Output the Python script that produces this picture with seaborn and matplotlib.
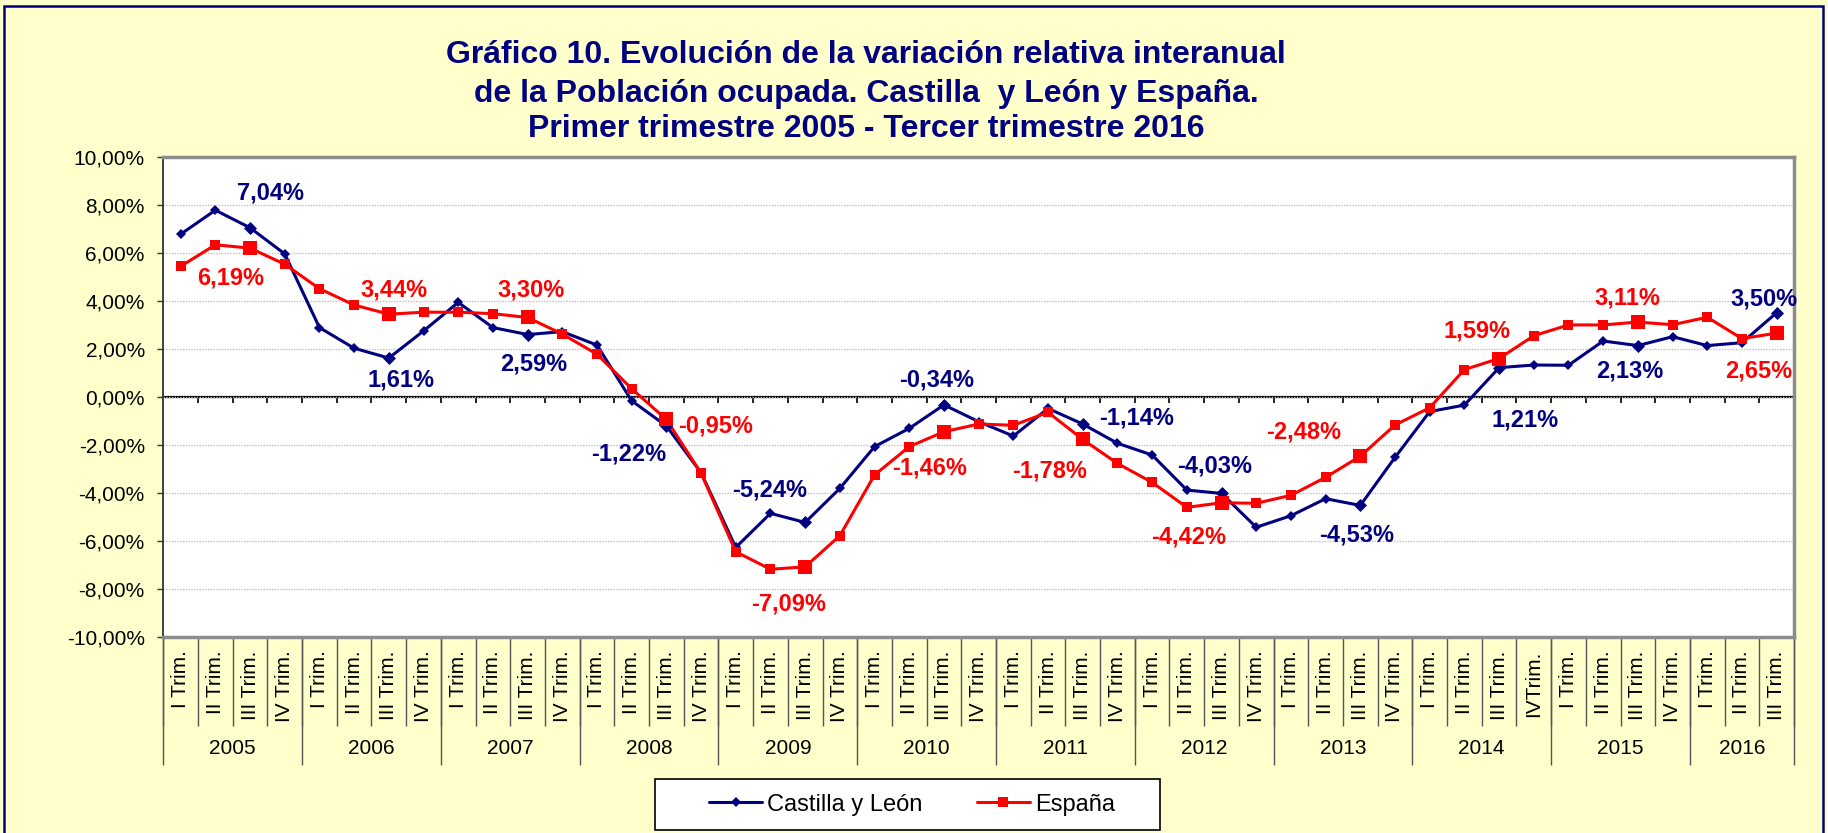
import numpy as np
import pandas as pd
import matplotlib
matplotlib.use('Agg')
import matplotlib.pyplot as plt
import seaborn as sns
from matplotlib.patches import Rectangle
from matplotlib.ticker import FuncFormatter

# ── Data ───────────────────────────────────────────────────────────────────
years = ['2005', '2006', '2007', '2008', '2009', '2010',
         '2011', '2012', '2013', '2014', '2015', '2016']

quarter_labels = (
    ['I Trim.', 'II Trim.', 'III Trim.', 'IV Trim.'] * 9
    + ['I Trim.', 'II Trim.', 'III Trim.', 'IVTrim.']
    + ['I Trim.', 'II Trim.', 'III Trim.', 'IV Trim.']
    + ['I Trim.', 'II Trim.', 'III Trim.']
)

# variación interanual (%) 2005 T1 ... 2016 T3
castilla_leon = [6.77, 7.77, 7.04, 5.95, 2.88, 2.02, 1.61, 2.74,
                 3.93, 2.88, 2.59, 2.71, 2.15, -0.17, -1.22, -3.17,
                 -6.28, -4.86, -5.24, -3.82, -2.08, -1.32, -0.34, -1.04,
                 -1.64, -0.49, -1.14, -1.94, -2.43, -3.89, -4.03, -5.44,
                 -4.96, -4.25, -4.53, -2.53, -0.62, -0.35, 1.21, 1.32,
                 1.31, 2.32, 2.13, 2.50, 2.13, 2.25, 3.50]

espana = [5.43, 6.33, 6.19, 5.52, 4.50, 3.82, 3.44, 3.52,
          3.52, 3.46, 3.30, 2.61, 1.77, 0.33, -0.95, -3.19,
          -6.46, -7.19, -7.09, -5.79, -3.26, -2.08, -1.46, -1.14,
          -1.19, -0.65, -1.78, -2.78, -3.57, -4.61, -4.42, -4.44,
          -4.11, -3.36, -2.48, -1.18, -0.46, 1.13, 1.59, 2.54,
          2.99, 2.99, 3.11, 3.00, 3.31, 2.42, 2.65]

# third quarters carry a data label
labeled_idx = [2, 6, 10, 14, 18, 22, 26, 30, 34, 38, 42, 46]

# label offsets in pixels (dx, dy) -- style only
cyl_offsets = [(20, 35), (12, -22), (6, -29), (-38, -28), (-36, 32), (-7, 25),
               (54, 6), (-7, 27), (-4, -30), (26, -52), (-8, -25), (-13, 14)]
esp_offsets = [(-19, -30), (5, 24), (3, 27), (49, -7), (-17, -37), (-14, -36),
               (-33, -32), (-33, -34), (-57, 24), (-22, 28), (-11, 24), (-18, -38)]

# ── Style ──────────────────────────────────────────────────────────────────
NAVY = '#000080'
RED = '#FF0000'
BG = '#FFFFCC'
W, H = 1828, 833

sns.set_theme(style='white')
plt.rcParams['font.family'] = ['Liberation Sans', 'DejaVu Sans']

n = len(castilla_leon)
idx = np.arange(n)
df = pd.DataFrame({'idx': idx, 'cyl': castilla_leon, 'esp': espana})
df_lab = df.iloc[labeled_idx]

fig = plt.figure(figsize=(W / 100, H / 100), dpi=100, facecolor=BG)
ax = fig.add_axes([163.3 / W, 1 - 636.7 / H, (1794 - 163.3) / W, (636.7 - 156.7) / H])
ax.set_facecolor('white')

# navy outer frame
fig.patches.append(Rectangle((4 / W, -0.02), (1823 - 4) / W, 1.02 - 6 / H,
                             transform=fig.transFigure, fill=False,
                             edgecolor=NAVY, linewidth=1.8))

# ── Series ─────────────────────────────────────────────────────────────────
sns.lineplot(data=df, x='idx', y='cyl', color=NAVY, marker='D', markersize=4.8,
             markeredgewidth=0, linewidth=2.2, label='Castilla y León', ax=ax)
sns.scatterplot(data=df_lab, x='idx', y='cyl', color=NAVY, marker='D', s=44,
                linewidth=0, legend=False, ax=ax, zorder=3)
sns.lineplot(data=df, x='idx', y='esp', color=RED, marker='s', markersize=6.5,
             markeredgewidth=0, linewidth=2.2, label='España', ax=ax)
sns.scatterplot(data=df_lab, x='idx', y='esp', color=RED, marker='s', s=105,
                linewidth=0, legend=False, ax=ax, zorder=4)


def fmt(v):
    return f'{v:.2f}'.replace('.', ',') + '%'


for k, i in enumerate(labeled_idx):
    ax.annotate(fmt(castilla_leon[i]), (i, castilla_leon[i]), xytext=cyl_offsets[k],
                textcoords='offset pixels', ha='center', va='center',
                fontsize=17, fontweight='bold', color=NAVY, zorder=6)
    ax.annotate(fmt(espana[i]), (i, espana[i]), xytext=esp_offsets[k],
                textcoords='offset pixels', ha='center', va='center',
                fontsize=17, fontweight='bold', color=RED, zorder=6)

# ── Axes ───────────────────────────────────────────────────────────────────
ax.set_xlim(-0.5, n - 0.5)
ax.set_ylim(-10, 10)
ax.set_yticks(np.arange(-10, 11, 2))
ax.yaxis.set_major_formatter(FuncFormatter(lambda v, p: fmt(v)))
ax.tick_params(axis='y', direction='out', length=4.3, width=1, color='#333333',
               labelsize=15, pad=9, labelcolor='black', left=True)
ax.yaxis.grid(True, linestyle=(0, (1, 1)), color='#BFBFBF', linewidth=1)
ax.set_axisbelow(True)
ax.set_xlabel('')
ax.set_ylabel('')

ax.set_xticks(idx, labels=quarter_labels, rotation=90)
ax.tick_params(axis='x', which='major', length=0, pad=10, labelsize=15,
               labelcolor='black')
ax.set_xticks(np.arange(-0.5, n, 1), minor=True)
ax.tick_params(axis='x', which='minor', direction='out', length=64, width=1,
               color='#555555', bottom=True)

for side in ['top', 'right', 'bottom']:
    ax.spines[side].set_color('#8C8C8C')
    ax.spines[side].set_linewidth(2.5)
ax.spines['left'].set_color('#333333')
ax.spines['left'].set_linewidth(1.3)

# year row
year_edges = np.append(np.arange(-0.5, n, 4), n - 0.5)
year_centers = [(year_edges[k] + year_edges[k + 1]) / 2 for k in range(len(years))]
secax = ax.secondary_xaxis('bottom')
secax.set_xticks(year_edges, labels=[''] * len(year_edges))
secax.set_xticks(year_centers, labels=years, minor=True)
secax.tick_params(which='major', direction='out', length=92, width=1, color='#555555')
secax.tick_params(which='minor', length=0, pad=74, labelsize=15, labelcolor='black')
for sp in secax.spines.values():
    sp.set_visible(False)

# zero line with category tick marks pointing down
zax = ax.secondary_xaxis(0.4999)
zax.set_xticks(np.arange(0.5, n - 1, 1), labels=[''] * (n - 1))
zax.tick_params(direction='out', length=4.3, width=1.2, color='black')
for sp in zax.spines.values():
    sp.set_color('black')
    sp.set_linewidth(1.6)

# ── Title ──────────────────────────────────────────────────────────────────
title_lines = ['Gráfico 10. Evolución de la variación relativa interanual',
               'de la Población ocupada. Castilla  y León y España.',
               'Primer trimestre 2005 - Tercer trimestre 2016']
for line, ypix in zip(title_lines, [55, 94, 129]):
    fig.text(866 / W, 1 - ypix / H, line, ha='center', va='center',
             fontsize=23, fontweight='bold', color=NAVY)

# ── Legend ─────────────────────────────────────────────────────────────────
handles, labels = ax.get_legend_handles_labels()
if ax.get_legend() is not None:
    ax.get_legend().remove()
fig.patches.append(Rectangle((655 / W, 1 - 830 / H), 505 / W, 51 / H,
                             transform=fig.transFigure, facecolor='white',
                             edgecolor='black', linewidth=1.2))
fig.legend(handles, labels, loc='center', ncol=2,
           bbox_to_anchor=(912 / W, 1 - 804.5 / H),
           fontsize=17, frameon=False, labelcolor='black',
           handlelength=2.25, handletextpad=0.2, columnspacing=2.3,
           borderpad=0.3)

fig.savefig('out.png', dpi=100, facecolor=BG)
